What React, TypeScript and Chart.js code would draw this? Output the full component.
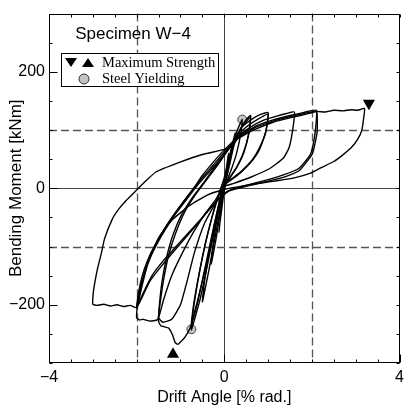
import React, { useEffect, useRef } from "react";
import { Chart, registerables } from "chart.js";

Chart.register(...registerables);

// ---- data (drift angle [% rad.], bending moment [kNm]) ----
const xTickLabels = [-4, 0, 4];
const yTickLabels = [-200, 0, 200];

const cycle01 = [[0, 0], [0.05, 35], [0.1, 60], [0.08, 45], [0.02, 15], [-0.03, -10], [-0.08, -45], [-0.12, -75], [-0.1, -60], [-0.04, -25], [0, -3]];
const cycle02 = [[0, -3], [0.08, 30], [0.15, 65], [0.25, 95], [0.22, 75], [0.12, 40], [0.03, 10], [-0.05, -20], [-0.15, -70], [-0.3, -130], [-0.27, -105], [-0.18, -60], [-0.08, -20], [0, 5]];
const cycle03 = [[0, 5], [0.1, 40], [0.2, 75], [0.3, 100], [0.41, 118], [0.38, 95], [0.28, 60], [0.15, 30], [0.02, 5], [-0.08, -30], [-0.2, -80], [-0.35, -140], [-0.5, -195], [-0.46, -165], [-0.36, -115], [-0.22, -60], [-0.1, -20], [0, 10]];
const cycle04 = [[0, 10], [0.1, 45], [0.2, 75], [0.35, 100], [0.5, 118], [0.6, 125], [0.56, 95], [0.45, 62], [0.3, 38], [0.12, 18], [0, 5], [-0.1, -25], [-0.22, -70], [-0.38, -130], [-0.55, -190], [-0.75, -243], [-0.7, -205], [-0.58, -150], [-0.45, -100], [-0.3, -55], [-0.15, -15], [0, 15]];
const cycle05 = [[0, 15], [0.12, 50], [0.25, 80], [0.4, 105], [0.6, 122], [0.55, 90], [0.42, 58], [0.26, 33], [0.1, 15], [0, 3], [-0.12, -30], [-0.25, -75], [-0.42, -135], [-0.6, -190], [-0.75, -232], [-0.7, -200], [-0.57, -145], [-0.43, -95], [-0.28, -50], [-0.12, -10], [0, 18]];
const cycle06 = [[0, 18], [0.12, 55], [0.25, 85], [0.4, 105], [0.6, 117], [0.8, 126], [1.0, 130], [0.95, 98], [0.82, 72], [0.65, 50], [0.4, 30], [0.2, 18], [0, 8], [-0.12, -25], [-0.28, -80], [-0.45, -140], [-0.62, -200], [-0.78, -240], [-0.9, -256], [-1.0, -264], [-1.06, -268], [-1.12, -265], [-1.18, -252], [-1.27, -240], [-1.36, -238], [-1.45, -236], [-1.5, -228], [-1.48, -200], [-1.42, -160], [-1.32, -120], [-1.18, -82], [-0.98, -46], [-0.72, -15], [-0.45, 12], [-0.2, 38], [0, 58]];
const cycle07 = [[0, 58], [0.2, 80], [0.45, 102], [0.75, 118], [1.0, 127], [0.94, 95], [0.8, 66], [0.6, 44], [0.36, 26], [0.15, 14], [0, 5], [-0.2, -25], [-0.45, -60], [-0.68, -110], [-0.85, -160], [-1.0, -200], [-1.2, -225], [-1.4, -230], [-1.5, -222], [-1.46, -195], [-1.38, -155], [-1.27, -115], [-1.1, -75], [-0.9, -40], [-0.65, -10], [-0.4, 15], [-0.15, 40], [0.05, 62]];
const cycle08 = [[0.05, 62], [0.3, 88], [0.6, 105], [0.9, 117], [1.2, 124], [1.4, 128], [1.6, 131], [1.56, 100], [1.48, 70], [1.35, 52], [1.04, 34], [0.6, 19], [0.2, 8], [0, 3], [-0.2, -20], [-0.45, -45], [-0.7, -75], [-0.95, -110], [-1.2, -150], [-1.38, -190], [-1.47, -215], [-1.53, -226], [-1.7, -228], [-1.85, -225], [-1.94, -226], [-2.0, -222], [-1.98, -200], [-1.93, -180], [-1.85, -155], [-1.79, -140], [-1.65, -110], [-1.5, -88], [-1.3, -62], [-1.0, -30], [-0.7, 0], [-0.5, 22], [-0.25, 45], [0, 66], [0.3, 88]];
const cycle09 = [[0.3, 88], [0.7, 106], [1.1, 117], [1.5, 125], [1.8, 130], [2.1, 134], [2.12, 98], [2.05, 70], [2.0, 58], [1.72, 31], [1.4, 20], [1.1, 14], [0.7, 7], [0.43, 2], [0.1, -5], [-0.2, -25], [-0.5, -50], [-0.8, -75], [-1.1, -100], [-1.4, -125], [-1.65, -150], [-1.85, -180], [-1.97, -200], [-2.0, -205], [-1.97, -185], [-1.92, -165], [-1.83, -140], [-1.7, -115], [-1.56, -95], [-1.35, -68], [-1.05, -35], [-0.75, -5], [-0.5, 18], [-0.25, 40], [0, 62], [0.3, 85]];
const cycle10 = [[0.3, 85], [0.7, 104], [1.1, 115], [1.5, 123], [1.8, 128], [2.1, 132], [2.08, 100], [2.02, 72], [1.95, 56], [1.7, 34], [1.35, 23], [1.0, 15], [0.6, 7], [0.3, 1], [0.05, -6], [-0.25, -28], [-0.55, -55], [-0.85, -82], [-1.15, -108], [-1.45, -135], [-1.7, -160], [-1.88, -188], [-1.98, -202], [-1.95, -180], [-1.88, -160], [-1.78, -135], [-1.62, -108], [-1.42, -80], [-1.15, -48], [-0.85, -18], [-0.58, 8], [-0.3, 32], [0, 58], [0.3, 85]];
const cycle11 = [[0.3, 85], [0.7, 101], [1.1, 113], [1.5, 121], [1.8, 126], [2.1, 132], [2.3, 131], [2.5, 134], [2.7, 133], [2.9, 135], [3.05, 134], [3.2, 137], [3.18, 120], [3.14, 100], [3.05, 85], [2.9, 70], [2.7, 57], [2.5, 46], [2.2, 35], [1.97, 26], [1.6, 18], [1.2, 13], [0.92, 10], [0.5, 5], [0, -2], [-0.4, -12], [-0.8, -30], [-1.2, -55], [-1.5, -85], [-1.75, -130], [-1.9, -175], [-2.0, -205], [-2.15, -201], [-2.3, -203], [-2.45, -200], [-2.6, -202], [-2.75, -199], [-2.9, -201], [-3.0, -199], [-2.99, -180], [-2.95, -160], [-2.89, -137], [-2.8, -110], [-2.73, -86], [-2.55, -52], [-2.4, -35], [-2.24, -21], [-2.0, -3], [-1.8, 12], [-1.56, 28], [-1.04, 44], [-0.5, 58], [0.1, 69], [0.3, 85], [0.5, 98]];

const cycles = [cycle01, cycle02, cycle03, cycle04, cycle05, cycle06, cycle07, cycle08, cycle09, cycle10, cycle11];

const maxStrengthPos = [[3.3, 146]];
const maxStrengthNeg = [[-1.17, -285]];
const steelYielding = [[0.41, 118], [-0.75, -242]];

const specimenTitle = "Specimen W\u22124";
const legendMax = "Maximum Strength";
const legendYield = "Steel Yielding";
const xTitle = "Drift Angle [% rad.]";
const yTitle = "Bending Moment [kNm]";

const fmt = (v: number) => (v < 0 ? "\u2212" + Math.abs(v) : String(v));

const framePlugin = {
  id: "framePlugin",
  beforeDatasetsDraw(chart: any) {
    const { ctx, chartArea: a, scales } = chart;
    const xs = scales.x, ys = scales.y;
    ctx.save();
    ctx.lineWidth = 1;
    ctx.strokeStyle = "#444";
    ctx.setLineDash([]);
    const x0 = Math.round(xs.getPixelForValue(0)) + 0.5;
    const y0 = Math.round(ys.getPixelForValue(0)) + 0.5;
    ctx.beginPath();
    ctx.moveTo(x0, a.top); ctx.lineTo(x0, a.bottom);
    ctx.moveTo(a.left, y0); ctx.lineTo(a.right, y0);
    ctx.stroke();
    ctx.strokeStyle = "#555";
    ctx.lineWidth = 1.3;
    ctx.setLineDash([8, 4]);
    ctx.beginPath();
    [-2, 2].forEach((v) => {
      const p = Math.round(xs.getPixelForValue(v)) + 0.5;
      ctx.moveTo(p, a.top); ctx.lineTo(p, a.bottom);
    });
    [-100, 100].forEach((v) => {
      const p = Math.round(ys.getPixelForValue(v)) + 0.5;
      ctx.moveTo(a.left, p); ctx.lineTo(a.right, p);
    });
    ctx.stroke();
    ctx.restore();
  },
  afterDatasetsDraw(chart: any) {
    const { ctx, chartArea: a, scales } = chart;
    const xs = scales.x, ys = scales.y;
    ctx.save();
    ctx.setLineDash([]);
    ctx.strokeStyle = "#000";
    ctx.lineWidth = 1;
    const L = Math.round(a.left) + 0.5, R = Math.round(a.right) - 0.5;
    const T = Math.round(a.top) + 0.5, B = Math.round(a.bottom) - 0.5;
    ctx.strokeRect(L, T, R - L, B - T);
    ctx.beginPath();
    for (let v = -4; v <= 4.001; v += 0.5) {
      const p = Math.round(xs.getPixelForValue(v)) + 0.5;
      const major = xTickLabels.includes(v);
      ctx.moveTo(p, B); ctx.lineTo(p, B - (major ? 8 : 3));
      ctx.moveTo(p, T); ctx.lineTo(p, T + 3);
    }
    for (let v = -300; v <= 300; v += 50) {
      const p = Math.round(ys.getPixelForValue(v)) + 0.5;
      const major = yTickLabels.includes(v);
      ctx.moveTo(L, p); ctx.lineTo(L + (major ? 8 : 3), p);
      ctx.moveTo(R, p); ctx.lineTo(R - 3, p);
    }
    ctx.stroke();

    ctx.fillStyle = "#000";
    ctx.font = '17px "Liberation Sans", Arial, sans-serif';
    ctx.textAlign = "center";
    ctx.textBaseline = "middle";
    ctx.fillText(specimenTitle, 133, 34);

    ctx.fillStyle = "#fff";
    ctx.fillRect(61.5, 53.5, 157, 33);
    ctx.strokeRect(61.5, 53.5, 157, 33);
    ctx.fillStyle = "#000";
    ctx.beginPath();
    ctx.moveTo(65, 58); ctx.lineTo(77, 58); ctx.lineTo(71, 67); ctx.closePath(); ctx.fill();
    ctx.beginPath();
    ctx.moveTo(82, 67); ctx.lineTo(94, 67); ctx.lineTo(88, 58); ctx.closePath(); ctx.fill();
    ctx.beginPath();
    ctx.arc(84, 79, 5, 0, Math.PI * 2);
    ctx.fillStyle = "#c4c4c4"; ctx.fill();
    ctx.strokeStyle = "#333"; ctx.stroke();
    ctx.fillStyle = "#000";
    ctx.font = '14.5px "Liberation Serif", "Times New Roman", serif';
    ctx.textAlign = "left";
    ctx.textBaseline = "alphabetic";
    ctx.fillText(legendMax, 102, 67);
    ctx.fillText(legendYield, 102, 83);
    ctx.restore();
  },
};

export default function App() {
  const ref = useRef<HTMLCanvasElement | null>(null);
  useEffect(() => {
    if (!ref.current) return;
    const datasets: any[] = cycles.map((c) => ({
      data: c.map(([x, y]) => ({ x, y })),
      showLine: true,
      borderColor: "#000",
      borderWidth: 1.4,
      pointRadius: 0,
      tension: 0.15,
      fill: false,
    }));
    datasets.push({
      data: maxStrengthPos.map(([x, y]) => ({ x, y })),
      pointStyle: "triangle",
      rotation: 180,
      pointRadius: 7,
      backgroundColor: "#000",
      borderColor: "#000",
      borderWidth: 0,
      showLine: false,
    });
    datasets.push({
      data: maxStrengthNeg.map(([x, y]) => ({ x, y })),
      pointStyle: "triangle",
      pointRadius: 7,
      backgroundColor: "#000",
      borderColor: "#000",
      borderWidth: 0,
      showLine: false,
    });
    datasets.push({
      data: steelYielding.map(([x, y]) => ({ x, y })),
      pointStyle: "circle",
      pointRadius: 4.5,
      backgroundColor: "#c4c4c4",
      borderColor: "#444",
      borderWidth: 1,
      showLine: false,
    });
    const tickFont = { family: '"Liberation Sans", Arial, sans-serif', size: 16 };
    const chart = new Chart(ref.current, {
      type: "scatter",
      data: { datasets },
      plugins: [framePlugin],
      options: {
        animation: false,
        responsive: false,
        devicePixelRatio: 1,
        layout: { padding: { top: 9, right: 6, left: 0, bottom: 0 } },
        plugins: { legend: { display: false }, tooltip: { enabled: false } },
        scales: {
          x: {
            type: "linear",
            min: -4,
            max: 4,
            afterBuildTicks: (s: any) => { s.ticks = xTickLabels.map((v) => ({ value: v })); },
            afterFit: (s: any) => { s.height = 49; },
            grid: { display: false, drawTicks: false },
            border: { display: false },
            ticks: { color: "#000", font: tickFont, padding: 5, maxRotation: 0, autoSkip: false, callback: (v: any) => fmt(Number(v)) },
            title: { display: true, text: xTitle, color: "#000", font: tickFont, padding: { top: 0, bottom: 5 } },
          },
          y: {
            type: "linear",
            min: -300,
            max: 300,
            afterBuildTicks: (s: any) => { s.ticks = yTickLabels.map((v) => ({ value: v })); },
            afterFit: (s: any) => { s.width = 49; },
            grid: { display: false, drawTicks: false },
            border: { display: false },
            ticks: { color: "#000", font: tickFont, padding: 4, autoSkip: false, callback: (v: any) => fmt(Number(v)) },
            title: { display: true, text: yTitle, color: "#000", font: { ...tickFont, size: 17 }, padding: { top: 6, bottom: 0 } },
          },
        },
      } as any,
    });
    return () => chart.destroy();
  }, []);
  return (
    <div style={{ position: "absolute", left: 0, top: 0, width: 409, height: 412, background: "#fff" }}>
      <canvas ref={ref} width={409} height={412} style={{ width: 409, height: 412, display: "block" }} />
    </div>
  );
}
